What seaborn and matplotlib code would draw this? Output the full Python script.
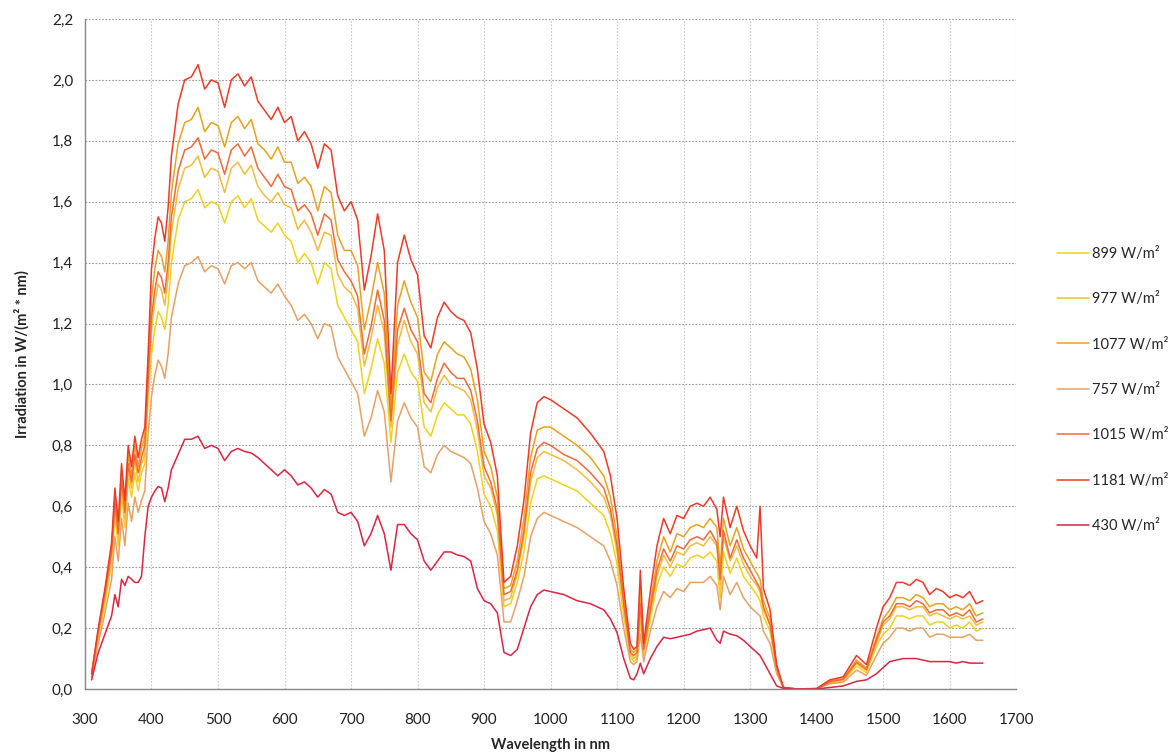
import numpy as np
import pandas as pd
import matplotlib
matplotlib.use("Agg")
import matplotlib.pyplot as plt
import seaborn as sns

# wavelength grid in nm
wavelength = [310, 320, 330, 340, 345, 350, 355, 360, 365, 370, 375, 380, 385, 390, 395,
              400, 405, 410, 415, 420, 425, 430, 440, 450, 460, 470, 480, 490, 500, 510,
              520, 530, 540, 550, 560, 570, 580, 590, 600, 610, 620, 630, 640, 650, 660,
              670, 680, 690, 700, 710, 720, 730, 740, 750, 760, 770, 780, 790, 800, 810,
              820, 830, 840, 850, 860, 870, 880, 890, 900, 910, 920, 930, 940, 950, 960,
              970, 980, 990, 1000, 1020, 1040, 1060, 1080, 1090, 1100, 1110, 1120, 1125, 1130, 1135,
              1140, 1150, 1160, 1170, 1180, 1190, 1200, 1210, 1220, 1230, 1240, 1250, 1255, 1260, 1270,
              1280, 1290, 1300, 1310, 1315, 1320, 1330, 1340, 1350, 1370, 1400, 1420, 1440, 1460, 1475,
              1490, 1500, 1510, 1520, 1530, 1540, 1550, 1560, 1570, 1580, 1590, 1600, 1610, 1620, 1630,
              1640, 1650]

irr_1181 = [0.05, 0.20, 0.33, 0.48, 0.66, 0.55, 0.74, 0.62, 0.80, 0.73, 0.83, 0.76, 0.82, 0.86, 1.10,
            1.38, 1.48, 1.55, 1.53, 1.47, 1.58, 1.75, 1.92, 2.00, 2.01, 2.05, 1.97, 2.00, 1.99, 1.91,
            2.00, 2.02, 1.98, 2.01, 1.93, 1.90, 1.87, 1.91, 1.86, 1.88, 1.80, 1.83, 1.79, 1.71, 1.79,
            1.77, 1.62, 1.57, 1.60, 1.54, 1.31, 1.42, 1.56, 1.44, 0.97, 1.40, 1.49, 1.41, 1.36, 1.16,
            1.12, 1.22, 1.27, 1.24, 1.22, 1.21, 1.17, 1.05, 0.87, 0.81, 0.70, 0.35, 0.37, 0.47, 0.62,
            0.84, 0.94, 0.96, 0.95, 0.92, 0.89, 0.84, 0.78, 0.70, 0.56, 0.33, 0.15, 0.13, 0.14, 0.39,
            0.15, 0.32, 0.47, 0.56, 0.51, 0.57, 0.56, 0.60, 0.61, 0.60, 0.63, 0.59, 0.50, 0.63, 0.53,
            0.60, 0.52, 0.47, 0.43, 0.60, 0.33, 0.26, 0.08, 0.005, 0.0, 0.002, 0.03, 0.04, 0.11, 0.08,
            0.20, 0.27, 0.30, 0.35, 0.35, 0.34, 0.36, 0.35, 0.31, 0.33, 0.32, 0.30, 0.31, 0.30, 0.32,
            0.28, 0.29]

irr_1077 = [0.05, 0.19, 0.32, 0.46, 0.63, 0.53, 0.71, 0.60, 0.77, 0.70, 0.80, 0.73, 0.79, 0.83, 1.06,
            1.28, 1.38, 1.44, 1.42, 1.37, 1.47, 1.63, 1.79, 1.86, 1.87, 1.91, 1.83, 1.86, 1.85, 1.78,
            1.86, 1.88, 1.84, 1.87, 1.79, 1.77, 1.74, 1.78, 1.73, 1.73, 1.66, 1.68, 1.65, 1.57, 1.65,
            1.63, 1.49, 1.44, 1.44, 1.39, 1.18, 1.28, 1.40, 1.30, 0.92, 1.26, 1.34, 1.27, 1.22, 1.04,
            1.01, 1.10, 1.14, 1.12, 1.10, 1.09, 1.05, 0.95, 0.78, 0.73, 0.63, 0.33, 0.34, 0.42, 0.56,
            0.76, 0.85, 0.86, 0.86, 0.83, 0.80, 0.76, 0.70, 0.63, 0.50, 0.30, 0.13, 0.12, 0.13, 0.33,
            0.14, 0.28, 0.42, 0.50, 0.45, 0.51, 0.50, 0.53, 0.54, 0.53, 0.56, 0.53, 0.40, 0.56, 0.47,
            0.53, 0.46, 0.42, 0.38, 0.36, 0.29, 0.23, 0.07, 0.005, 0.0, 0.0, 0.026, 0.034, 0.095, 0.069,
            0.17, 0.23, 0.26, 0.30, 0.30, 0.29, 0.31, 0.30, 0.27, 0.28, 0.28, 0.26, 0.27, 0.26, 0.28,
            0.24, 0.25]

irr_1015 = [0.05, 0.19, 0.31, 0.45, 0.61, 0.51, 0.69, 0.58, 0.74, 0.68, 0.77, 0.71, 0.76, 0.80, 1.02,
            1.22, 1.31, 1.37, 1.35, 1.30, 1.40, 1.55, 1.70, 1.77, 1.78, 1.81, 1.74, 1.77, 1.76, 1.69,
            1.77, 1.79, 1.75, 1.78, 1.71, 1.68, 1.65, 1.69, 1.65, 1.64, 1.57, 1.59, 1.56, 1.49, 1.56,
            1.54, 1.41, 1.37, 1.34, 1.29, 1.10, 1.19, 1.31, 1.21, 0.88, 1.18, 1.25, 1.18, 1.14, 0.97,
            0.94, 1.02, 1.07, 1.04, 1.02, 1.02, 0.98, 0.88, 0.73, 0.68, 0.59, 0.31, 0.32, 0.39, 0.52,
            0.71, 0.79, 0.81, 0.80, 0.77, 0.75, 0.71, 0.66, 0.59, 0.47, 0.28, 0.12, 0.11, 0.12, 0.28,
            0.13, 0.26, 0.39, 0.46, 0.42, 0.47, 0.46, 0.49, 0.50, 0.49, 0.52, 0.48, 0.36, 0.52, 0.43,
            0.49, 0.43, 0.39, 0.35, 0.33, 0.27, 0.21, 0.07, 0.005, 0.0, 0.0, 0.024, 0.032, 0.088, 0.064,
            0.16, 0.22, 0.24, 0.28, 0.28, 0.27, 0.29, 0.28, 0.25, 0.26, 0.26, 0.24, 0.25, 0.24, 0.26,
            0.22, 0.23]

irr_977 = [0.04, 0.18, 0.30, 0.43, 0.59, 0.50, 0.67, 0.56, 0.72, 0.66, 0.75, 0.68, 0.74, 0.77, 0.99,
           1.18, 1.27, 1.33, 1.31, 1.26, 1.35, 1.50, 1.64, 1.71, 1.72, 1.75, 1.68, 1.71, 1.70, 1.63,
           1.71, 1.73, 1.69, 1.72, 1.65, 1.62, 1.60, 1.63, 1.59, 1.58, 1.51, 1.54, 1.50, 1.44, 1.50,
           1.49, 1.36, 1.32, 1.30, 1.25, 1.06, 1.15, 1.26, 1.17, 0.86, 1.13, 1.21, 1.14, 1.10, 0.94,
           0.91, 0.99, 1.03, 1.00, 0.99, 0.98, 0.95, 0.85, 0.70, 0.66, 0.57, 0.29, 0.30, 0.38, 0.50,
           0.68, 0.76, 0.78, 0.77, 0.75, 0.72, 0.68, 0.63, 0.57, 0.45, 0.27, 0.12, 0.10, 0.11, 0.25,
           0.12, 0.25, 0.37, 0.44, 0.40, 0.45, 0.44, 0.47, 0.48, 0.47, 0.50, 0.47, 0.34, 0.50, 0.42,
           0.47, 0.41, 0.37, 0.34, 0.32, 0.26, 0.21, 0.06, 0.005, 0.0, 0.0, 0.023, 0.03, 0.084, 0.061,
           0.15, 0.21, 0.23, 0.27, 0.27, 0.26, 0.27, 0.27, 0.24, 0.25, 0.24, 0.23, 0.24, 0.23, 0.24,
           0.21, 0.22]

irr_899 = [0.04, 0.17, 0.28, 0.41, 0.57, 0.47, 0.64, 0.53, 0.69, 0.63, 0.71, 0.65, 0.71, 0.74, 0.95,
           1.10, 1.18, 1.24, 1.22, 1.18, 1.26, 1.40, 1.54, 1.60, 1.61, 1.64, 1.58, 1.60, 1.59, 1.53,
           1.60, 1.62, 1.58, 1.61, 1.54, 1.52, 1.50, 1.53, 1.49, 1.47, 1.40, 1.43, 1.40, 1.33, 1.40,
           1.38, 1.26, 1.22, 1.18, 1.14, 0.97, 1.05, 1.15, 1.07, 0.81, 1.04, 1.10, 1.04, 1.01, 0.86,
           0.83, 0.90, 0.94, 0.92, 0.90, 0.90, 0.87, 0.78, 0.64, 0.60, 0.52, 0.27, 0.28, 0.35, 0.45,
           0.61, 0.69, 0.70, 0.69, 0.67, 0.65, 0.61, 0.57, 0.51, 0.41, 0.24, 0.11, 0.09, 0.10, 0.22,
           0.11, 0.23, 0.34, 0.40, 0.37, 0.41, 0.40, 0.43, 0.44, 0.43, 0.45, 0.42, 0.30, 0.45, 0.38,
           0.43, 0.37, 0.34, 0.31, 0.29, 0.24, 0.19, 0.06, 0.005, 0.0, 0.0, 0.02, 0.027, 0.075, 0.054,
           0.14, 0.18, 0.20, 0.24, 0.24, 0.23, 0.24, 0.24, 0.21, 0.22, 0.22, 0.20, 0.21, 0.20, 0.22,
           0.19, 0.20]

irr_757 = [0.04, 0.15, 0.25, 0.36, 0.50, 0.42, 0.56, 0.47, 0.61, 0.55, 0.63, 0.58, 0.62, 0.65, 0.84,
           0.96, 1.03, 1.08, 1.06, 1.02, 1.10, 1.22, 1.33, 1.39, 1.40, 1.42, 1.37, 1.39, 1.38, 1.33,
           1.39, 1.40, 1.38, 1.40, 1.34, 1.32, 1.30, 1.33, 1.29, 1.26, 1.21, 1.23, 1.20, 1.15, 1.20,
           1.19, 1.09, 1.05, 1.01, 0.97, 0.83, 0.89, 0.98, 0.91, 0.68, 0.88, 0.94, 0.89, 0.86, 0.73,
           0.71, 0.77, 0.80, 0.78, 0.77, 0.76, 0.74, 0.66, 0.55, 0.51, 0.44, 0.22, 0.22, 0.29, 0.37,
           0.50, 0.56, 0.58, 0.57, 0.55, 0.53, 0.50, 0.47, 0.42, 0.34, 0.20, 0.09, 0.08, 0.09, 0.18,
           0.09, 0.19, 0.27, 0.32, 0.30, 0.33, 0.32, 0.35, 0.35, 0.35, 0.37, 0.34, 0.26, 0.37, 0.31,
           0.35, 0.30, 0.27, 0.25, 0.24, 0.19, 0.15, 0.05, 0.005, 0.0, 0.0, 0.017, 0.022, 0.062, 0.045,
           0.11, 0.15, 0.17, 0.20, 0.20, 0.19, 0.20, 0.20, 0.17, 0.18, 0.18, 0.17, 0.17, 0.17, 0.18,
           0.16, 0.16]

irr_430 = [0.03, 0.12, 0.18, 0.24, 0.31, 0.27, 0.36, 0.34, 0.37, 0.36, 0.35, 0.35, 0.37, 0.50, 0.60,
           0.63, 0.65, 0.665, 0.66, 0.615, 0.66, 0.72, 0.77, 0.82, 0.82, 0.83, 0.79, 0.80, 0.79, 0.75,
           0.78, 0.79, 0.78, 0.775, 0.76, 0.74, 0.72, 0.70, 0.72, 0.70, 0.67, 0.68, 0.66, 0.63, 0.655,
           0.64, 0.58, 0.57, 0.58, 0.55, 0.47, 0.51, 0.57, 0.51, 0.39, 0.54, 0.54, 0.51, 0.49, 0.42,
           0.39, 0.42, 0.45, 0.45, 0.44, 0.435, 0.42, 0.33, 0.29, 0.28, 0.25, 0.12, 0.11, 0.13, 0.20,
           0.27, 0.31, 0.325, 0.32, 0.31, 0.29, 0.28, 0.26, 0.23, 0.185, 0.10, 0.035, 0.03, 0.05, 0.085,
           0.05, 0.10, 0.14, 0.17, 0.165, 0.17, 0.175, 0.18, 0.19, 0.195, 0.20, 0.16, 0.15, 0.19, 0.18,
           0.175, 0.16, 0.14, 0.12, 0.11, 0.09, 0.05, 0.01, 0.002, 0.0, 0.0, 0.005, 0.01, 0.025, 0.03,
           0.05, 0.07, 0.09, 0.095, 0.10, 0.10, 0.10, 0.095, 0.09, 0.09, 0.09, 0.09, 0.085, 0.09, 0.085,
           0.085, 0.085]

labels = ["899 W/m²", "977 W/m²", "1077 W/m²", "757 W/m²", "1015 W/m²", "1181 W/m²", "430 W/m²"]
series = [irr_899, irr_977, irr_1077, irr_757, irr_1015, irr_1181, irr_430]
colors = ["#F2D21A", "#F4BC3C", "#E9A21E", "#E9A064", "#F06A3A", "#EE3A28", "#DE2440"]

frames = []
for lab, vals in zip(labels, series):
    frames.append(pd.DataFrame({"Wavelength": wavelength, "Irradiation": vals, "Series": lab}))
df = pd.concat(frames, ignore_index=True)

sns.set_style("white")
plt.rcParams["font.family"] = ["Lato", "DejaVu Sans"]

fig = plt.figure(figsize=(11.72, 7.54), dpi=100)
ax = fig.add_axes([0.0725, 0.0862, 0.7945, 0.8886])

sns.lineplot(data=df, x="Wavelength", y="Irradiation", hue="Series", hue_order=labels,
             palette=dict(zip(labels, colors)), linewidth=1.1, ax=ax, sort=False)

ax.set_xlim(300, 1700)
ax.set_ylim(0, 2.2)
ax.set_xticks(np.arange(300, 1701, 100))
ax.set_yticks(np.arange(0, 2.21, 0.2))
ax.set_yticklabels([f"{v:.1f}".replace(".", ",") for v in np.arange(0, 2.21, 0.2)])
ax.tick_params(axis="both", labelsize=11, colors="#222222", length=5, color="#888888", direction="out")
ax.tick_params(axis="x", pad=12)
ax.grid(True, axis="y", linestyle=(0, (1.5, 1.5)), color="#999999", linewidth=0.8)
ax.grid(True, axis="x", linestyle=(0, (1.5, 1.5)), color="#c8c8c8", linewidth=0.8)
for side in ["top", "right"]:
    ax.spines[side].set_visible(False)
for side in ["left", "bottom"]:
    ax.spines[side].set_color("#888888")
    ax.spines[side].set_linewidth(1.0)

ax.set_xlabel("Wavelength in nm", fontsize=10.5, fontweight="bold", labelpad=8)
ax.set_ylabel("Irradiation in W/(m² * nm)", fontsize=10.5, fontweight="bold", labelpad=16)

handles, labs = ax.get_legend_handles_labels()
ax.get_legend().remove()
fig.legend(handles, labs, loc="upper left", bbox_to_anchor=(0.891, 0.69), frameon=False,
           fontsize=10.5, handlelength=2.2, handletextpad=0.2, labelspacing=2.15)

fig.savefig("out.png", dpi=100)
